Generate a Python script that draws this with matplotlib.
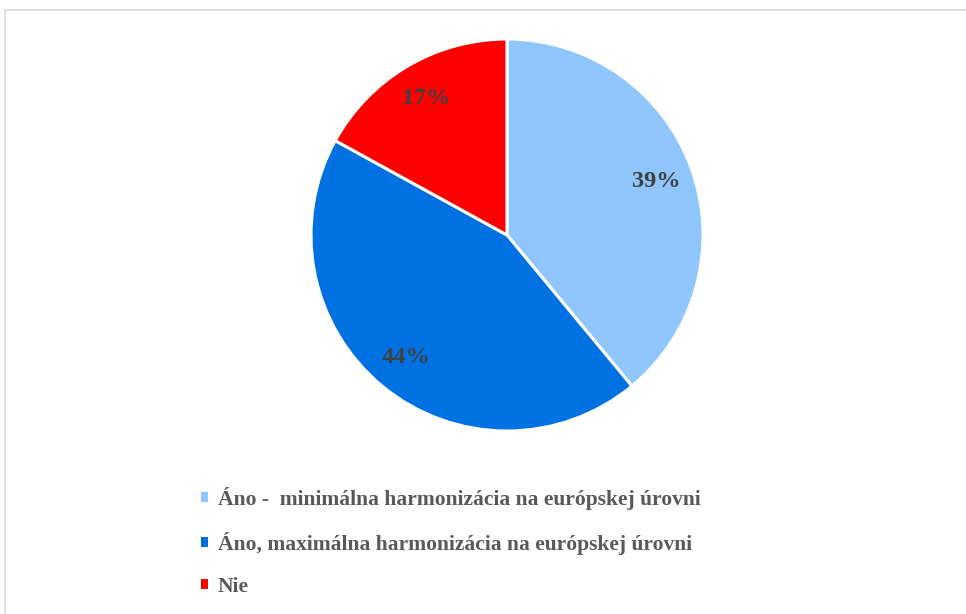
import matplotlib
matplotlib.use('Agg')
import matplotlib.pyplot as plt
from matplotlib.patches import Rectangle

# Data
labels = ['Áno -  minimálna harmonizácia na európskej úrovni',
          'Áno, maximálna harmonizácia na európskej úrovni',
          'Nie']
values = [39, 44, 17]
colors = ['#8FC6FD', '#0071E2', '#FF0000']

W, H = 966, 614
fig = plt.figure(figsize=(W / 100, H / 100), dpi=100)
fig.patch.set_facecolor('white')

# light grey chart frame (runs off the right/bottom edge)
fig.patches.append(Rectangle((4.5 / W, -0.1), 1.2, 1.1 - 10.5 / H,
                             transform=fig.transFigure, fill=False,
                             edgecolor='#D9D9D9', linewidth=1.2))

# square axes for the pie: centre (507, 235), radius 196 px
cx, cy, r = 507, 235, 196
ax = fig.add_axes([(cx - r) / W, (H - cy - r) / H, 2 * r / W, 2 * r / H])
wedges, texts, autotexts = ax.pie(
    values, colors=colors, startangle=90, counterclock=False,
    autopct='%1.0f%%', pctdistance=0.81,
    wedgeprops=dict(edgecolor='white', linewidth=2.2),
    textprops=dict(fontfamily='Liberation Serif', fontweight='bold',
                   fontsize=17.5, color='#404040'))
ax.set_xlim(-1, 1)
ax.set_ylim(-1, 1)
ax.axis('off')

leg = fig.legend(wedges, labels, loc='upper left',
                 bbox_to_anchor=(190 / W, 1 - 476 / H),
                 frameon=False, handlelength=0.35, handleheight=0.35,
                 handletextpad=0.45, labelspacing=1.02, borderpad=0,
                 prop=dict(family='Liberation Serif', weight='bold', size=15.5))
for t in leg.get_texts():
    t.set_color('#595959')
for h in leg.legend_handles:
    h.set_edgecolor('none')

fig.savefig('out.png', dpi=100)
plt.close(fig)
